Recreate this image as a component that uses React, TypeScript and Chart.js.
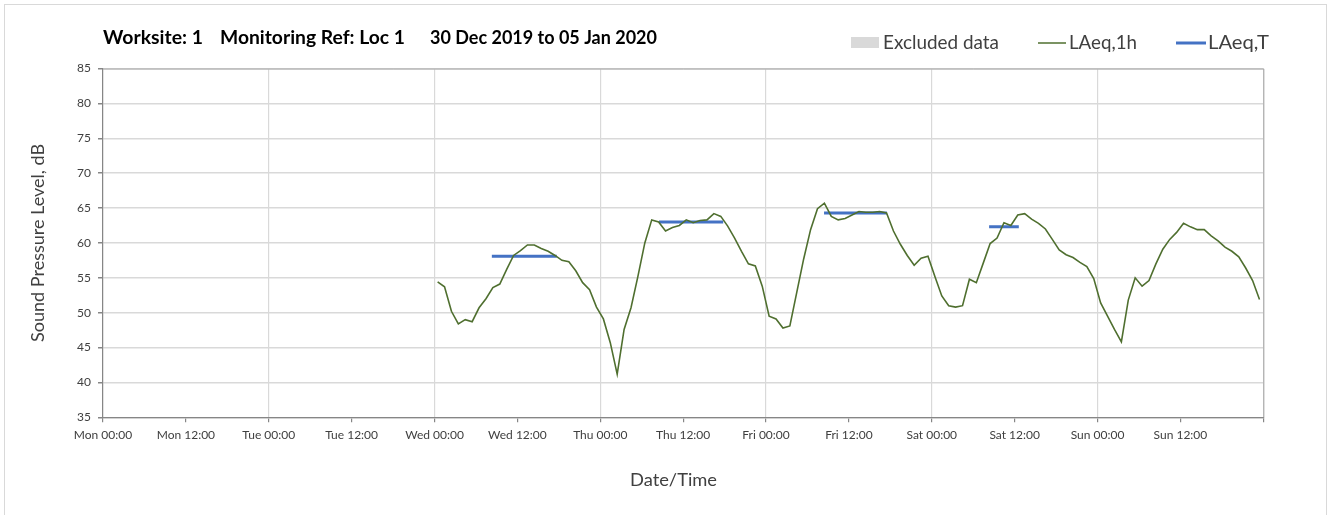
import React, { useEffect, useRef } from "react";
import { Chart, registerables } from "chart.js";

Chart.register(...registerables);

// ---- Data ----
const xTickLabels = [
  "Mon 00:00", "Mon 12:00", "Tue 00:00", "Tue 12:00", "Wed 00:00", "Wed 12:00",
  "Thu 00:00", "Thu 12:00", "Fri 00:00", "Fri 12:00", "Sat 00:00", "Sat 12:00",
  "Sun 00:00", "Sun 12:00",
];
const yTicks = [35, 40, 45, 50, 55, 60, 65, 70, 75, 80, 85];

// hourly LAeq,1h values, Wed 00:00 .. Sun 23:00
const firstHour = 48.45; // hours after Mon 00:00 of the first hourly point
const laeq1hWed = [54.4, 53.7, 50.2, 48.4, 49.0, 48.7, 50.7, 52.0, 53.6, 54.1, 56.2, 58.2, 58.9, 59.7, 59.7, 59.2, 58.8, 58.2, 57.5, 57.3, 56.0, 54.3, 53.3, 50.8];
const laeq1hThu = [49.1, 45.7, 41.2, 47.6, 50.7, 55.2, 60.0, 63.3, 63.0, 61.7, 62.2, 62.5, 63.3, 62.9, 63.2, 63.3, 64.2, 63.8, 62.4, 60.7, 58.8, 57.0, 56.7, 53.8];
const laeq1hFri = [49.5, 49.1, 47.8, 48.1, 52.9, 57.7, 61.9, 64.9, 65.7, 63.8, 63.3, 63.5, 64.0, 64.5, 64.4, 64.4, 64.5, 64.3, 61.7, 59.8, 58.2, 56.8, 57.8, 58.1];
const laeq1hSat = [55.2, 52.4, 51.0, 50.8, 51.0, 54.8, 54.3, 57.1, 59.9, 60.7, 62.9, 62.5, 64.0, 64.2, 63.4, 62.8, 62.0, 60.5, 59.0, 58.3, 57.9, 57.2, 56.6, 54.9];
const laeq1hSun = [51.4, 49.5, 47.6, 45.8, 51.8, 55.0, 53.8, 54.6, 57.0, 59.1, 60.5, 61.5, 62.8, 62.3, 61.9, 61.9, 61.0, 60.3, 59.4, 58.8, 58.0, 56.4, 54.6, 51.9];

// LAeq,T periods (hours after Mon 00:00)
const ltStart = [56.3, 80.5, 104.4, 128.3];
const ltEnd = [65.7, 89.8, 113.5, 132.6];
const ltValues = [58.1, 63.0, 64.3, 62.3];

const FONT = "Lato, 'Open Sans', sans-serif";
const TEXT = "#404040";

function fitText(c: CanvasRenderingContext2D, text: string, x: number, y: number, w: number) {
  const m = c.measureText(text).width;
  c.save();
  c.translate(x, y);
  c.scale(w / m, 1);
  c.fillText(text, 0, 0);
  c.restore();
}

export default function App() {
  const ref = useRef<HTMLCanvasElement | null>(null);

  useEffect(() => {
    const canvas = ref.current;
    if (!canvas) return;

    const hourly = [...laeq1hWed, ...laeq1hThu, ...laeq1hFri, ...laeq1hSat, ...laeq1hSun];
    const hourlyPts = hourly.map((v, i) => ({ x: firstHour + i, y: v }));
    const ltPts: { x: number; y: number | null }[] = [];
    ltValues.forEach((v, i) => {
      ltPts.push({ x: ltStart[i], y: v });
      ltPts.push({ x: ltEnd[i], y: v });
      ltPts.push({ x: (ltEnd[i] + (ltStart[i + 1] ?? ltEnd[i] + 2)) / 2, y: null });
    });

    const decor = {
      id: "decor",
      afterDraw(chart: any) {
        const c = chart.ctx as CanvasRenderingContext2D;
        const a = chart.chartArea;
        c.save();
        // outer frame
        c.strokeStyle = "#d9d9d9";
        c.lineWidth = 1;
        c.strokeRect(4.5, 4.5, 1322, 530);
        // top/right plot border
        c.strokeStyle = "#a6a6a6";
        c.beginPath();
        c.moveTo(a.left, a.top + 0.5);
        c.lineTo(a.right + 0.5, a.top + 0.5);
        c.lineTo(a.right + 0.5, a.bottom);
        c.stroke();

        // title
        c.fillStyle = "#000";
        c.textBaseline = "middle";
        c.textAlign = "left";
        c.font = `bold 18px ${FONT}`;
        fitText(c, "Worksite: 1", 103, 38, 100);
        fitText(c, "Monitoring Ref: Loc 1", 220, 38, 185);
        fitText(c, "30 Dec 2019 to 05 Jan 2020", 430, 38, 227);

        // legend
        c.font = `19px ${FONT}`;
        c.fillStyle = "#d9d9d9";
        c.fillRect(851, 37, 28, 11);
        c.fillStyle = TEXT;
        fitText(c, "Excluded data", 883, 43, 116);
        c.strokeStyle = "#4f6f2f";
        c.lineWidth = 1.5;
        c.beginPath();
        c.moveTo(1038, 43);
        c.lineTo(1066, 43);
        c.stroke();
        fitText(c, "LAeq,1h", 1069, 43, 68);
        c.strokeStyle = "#4472c4";
        c.lineWidth = 3;
        c.beginPath();
        c.moveTo(1176, 43);
        c.lineTo(1206, 43);
        c.stroke();
        fitText(c, "LAeq,T", 1208, 43, 61);

        // axis titles
        c.font = `18px ${FONT}`;
        c.textAlign = "left";
        fitText(c, "Date/Time", 630, 480, 87);
        c.translate(38, (a.top + a.bottom) / 2);
        c.rotate(-Math.PI / 2);
        fitText(c, "Sound Pressure Level, dB", -99, 0, 198);
        c.restore();
      },
    };

    const chart = new Chart(canvas, {
      type: "line",
      data: {
        datasets: [
          {
            label: "LAeq,1h",
            data: hourlyPts,
            borderColor: "#4f6f2f",
            borderWidth: 1.6,
            pointRadius: 0,
            tension: 0,
          },
          {
            label: "LAeq,T",
            data: ltPts as any,
            borderColor: "#4472c4",
            borderWidth: 3,
            pointRadius: 0,
            spanGaps: false,
          },
        ],
      },
      options: {
        responsive: false,
        animation: false,
        events: [],
        layout: { padding: { top: 68.5, left: 0, right: 69.7, bottom: 0 } },
        plugins: { legend: { display: false }, tooltip: { enabled: false }, title: { display: false } },
        scales: {
          x: {
            type: "linear",
            min: 0,
            max: 168,
            afterFit: (s: any) => { s.height = 515 - 417.3; },
            afterBuildTicks: (s: any) => {
              const t = [];
              for (let i = 0; i <= xTickLabels.length; i++) t.push({ value: i * 12 });
              s.ticks = t;
            },
            ticks: {
              autoSkip: false,
              maxRotation: 0,
              minRotation: 0,
              padding: 6,
              color: TEXT,
              font: { family: FONT, size: 12 },
              callback: (v: any) => xTickLabels[Math.round(Number(v) / 12)] ?? "",
            },
            grid: {
              color: (ctx: any) => (ctx.tick && ctx.tick.value % 24 === 0 ? "#d9d9d9" : "rgba(0,0,0,0)"),
              tickColor: "#868686",
              tickLength: 5,
              lineWidth: 1.2,
            },
            border: { color: "#868686", width: 1.2 },
          },
          y: {
            min: 35,
            max: 85,
            afterFit: (s: any) => { s.width = 103; },
            afterBuildTicks: (s: any) => { s.ticks = yTicks.map((v) => ({ value: v })); },
            ticks: {
              padding: 7,
              color: TEXT,
              font: { family: FONT, size: 12 },
            },
            grid: { color: "#d9d9d9", tickColor: "#868686", tickLength: 5, lineWidth: 1.5 },
            border: { color: "#868686", width: 1.2 },
          },
        },
      },
      plugins: [decor],
    });
    return () => chart.destroy();
  }, []);

  return (
    <div style={{ position: "absolute", left: 0, top: 0, width: 1333, height: 515, background: "#fff" }}>
      <canvas ref={ref} width={1333} height={515} style={{ width: 1333, height: 515, display: "block" }} />
    </div>
  );
}
